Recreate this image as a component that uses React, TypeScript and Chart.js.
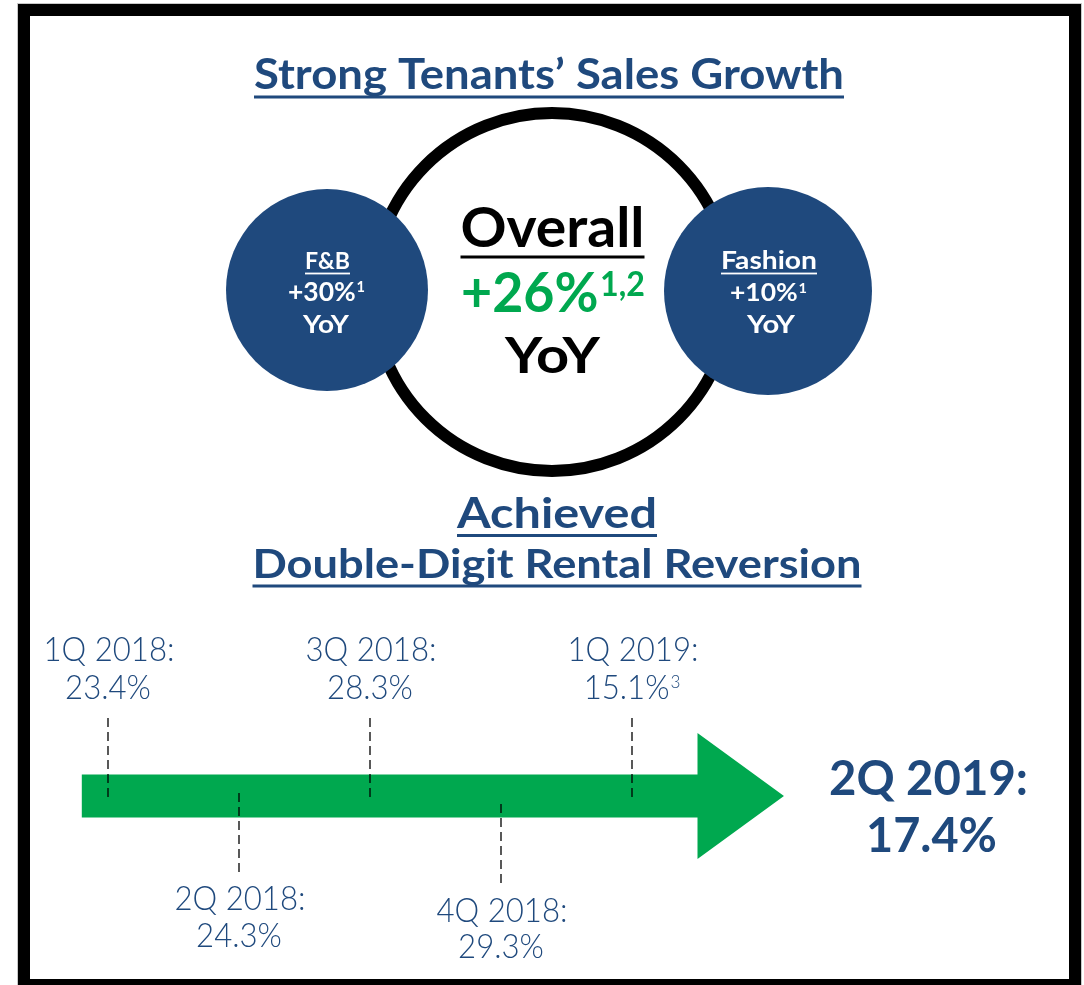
import React, { useEffect, useRef } from 'react';
import { Chart, registerables } from 'chart.js';

Chart.register(...registerables);

const W = 1084;
const H = 985;

// ---- data ----
const quarters = ['1Q 2018', '2Q 2018', '3Q 2018', '4Q 2018', '1Q 2019', '2Q 2019'];
const reversion = [23.4, 24.3, 28.3, 29.3, 15.1, 17.4];
const reversionNotes = ['', '', '', '', '3', ''];

const segments = ['F&B', 'Overall', 'Fashion'];
const salesGrowth = [30, 26, 10];
const growthNotes = ['1', '1,2', '1'];

const titleTop = 'Strong Tenants\u2019 Sales Growth';
const titleBottom = ['Achieved', 'Double-Digit Rental Reversion'];

// ---- style ----
const NAVY = '#1f497d';
const GREEN = '#00a84f';
const BOLD_FAMILY = 'Lato, "DejaVu Sans", sans-serif';
const LIGHT_FAMILY = 'Lato, "DejaVu Sans", sans-serif';

const X0 = 108; // pixel of first quarter
const QSTEP = 131; // pixels per quarter

type TextOpts = {
  main: string;
  sup?: string;
  cx: number;
  base: number;
  cap: number;
  width?: number;
  sx?: number;
  weight: string | number;
  family: string;
  color: string;
  supRatio?: number;
  underline?: { y: number; thick: number };
};

function sizeForCap(ctx: CanvasRenderingContext2D, weight: string | number, family: string, cap: number) {
  ctx.font = `${weight} 100px ${family}`;
  const a = ctx.measureText('H').actualBoundingBoxAscent || 72;
  return (cap * 100) / a;
}

function measure(ctx: CanvasRenderingContext2D, o: TextOpts) {
  const size = sizeForCap(ctx, o.weight, o.family, o.cap);
  const supSize = size * (o.supRatio ?? 0.58);
  ctx.font = `${o.weight} ${size}px ${o.family}`;
  const wMain = ctx.measureText(o.main).width;
  let wSup = 0;
  if (o.sup) {
    ctx.font = `${o.weight} ${supSize}px ${o.family}`;
    wSup = ctx.measureText(o.sup).width + size * 0.03;
  }
  return { size, supSize, wMain, total: wMain + wSup };
}

function drawText(ctx: CanvasRenderingContext2D, o: TextOpts) {
  const m = measure(ctx, o);
  let sx = o.sx ?? (o.width ? o.width / m.total : 1);
  sx = Math.max(0.7, Math.min(1.45, sx));
  ctx.save();
  ctx.translate(o.cx, o.base);
  ctx.scale(sx, 1);
  ctx.fillStyle = o.color;
  ctx.textAlign = 'left';
  ctx.textBaseline = 'alphabetic';
  ctx.font = `${o.weight} ${m.size}px ${o.family}`;
  ctx.fillText(o.main, -m.total / 2, 0);
  if (o.sup) {
    ctx.font = `${o.weight} ${m.supSize}px ${o.family}`;
    const supCap = o.cap * (m.supSize / m.size);
    ctx.fillText(o.sup, -m.total / 2 + m.wMain + m.size * 0.03, -(o.cap - supCap));
  }
  ctx.restore();
  if (o.underline) {
    ctx.fillStyle = o.color;
    const w = m.total * sx;
    ctx.fillRect(o.cx - w / 2, o.underline.y - o.underline.thick / 2, w, o.underline.thick);
  }
  return sx;
}

const infographic = {
  id: 'infographic',
  beforeDraw(chart: any) {
    const ctx: CanvasRenderingContext2D = chart.ctx;
    ctx.save();
    ctx.fillStyle = '#ffffff';
    ctx.fillRect(0, 0, W, H);
    // frame
    ctx.strokeStyle = '#c8c8c8';
    ctx.lineWidth = 1;
    ctx.strokeRect(17.5, 3.5, 1064, 990);
    ctx.strokeStyle = '#000000';
    ctx.lineWidth = 12;
    ctx.strokeRect(24, 10, 1051, 975);
    ctx.restore();
  },
  beforeDatasetsDraw(chart: any) {
    const ctx: CanvasRenderingContext2D = chart.ctx;
    const xs = chart.scales.x;
    const ys = chart.scales.y;
    const left = xs.getPixelForValue(-0.2);
    const headBase = xs.getPixelForValue(4.5);
    const tip = xs.getPixelForValue(5.16);
    const cy = ys.getPixelForValue(796);
    ctx.save();
    ctx.fillStyle = GREEN;
    ctx.beginPath();
    ctx.moveTo(left, cy - 21.5);
    ctx.lineTo(headBase, cy - 21.5);
    ctx.lineTo(headBase, cy - 63);
    ctx.lineTo(tip, cy);
    ctx.lineTo(headBase, cy + 63);
    ctx.lineTo(headBase, cy + 21.5);
    ctx.lineTo(left, cy + 21.5);
    ctx.closePath();
    ctx.fill();
    ctx.restore();
  },
  afterDatasetsDraw(chart: any) {
    const ctx: CanvasRenderingContext2D = chart.ctx;
    const xs = chart.scales.x;
    ctx.save();

    // titles
    drawText(ctx, {
      main: titleTop, cx: 549, base: 89, cap: 31, width: 590, weight: 'bold',
      family: BOLD_FAMILY, color: NAVY, underline: { y: 97, thick: 3 },
    });
    drawText(ctx, {
      main: titleBottom[0], cx: 557, base: 528, cap: 30, width: 200, weight: 'bold',
      family: BOLD_FAMILY, color: NAVY, underline: { y: 535.5, thick: 3 },
    });
    drawText(ctx, {
      main: titleBottom[1], cx: 557, base: 578, cap: 29, width: 609, weight: 'bold',
      family: BOLD_FAMILY, color: NAVY, underline: { y: 586, thick: 3 },
    });

    // big ring
    ctx.strokeStyle = '#000';
    ctx.lineWidth = 12;
    ctx.beginPath();
    ctx.arc(552, 292, 179, 0, Math.PI * 2);
    ctx.stroke();

    // side circles
    const circles = [
      { cx: 327, cy: 290, r: 101 },
      null,
      { cx: 768, cy: 291, r: 104 },
    ];
    circles.forEach((c) => {
      if (!c) return;
      ctx.fillStyle = NAVY;
      ctx.beginPath();
      ctx.arc(c.cx, c.cy, c.r, 0, Math.PI * 2);
      ctx.fill();
    });

    // F&B
    drawText(ctx, {
      main: segments[0], cx: 327.5, base: 269, cap: 17, width: 45, weight: 'bold',
      family: BOLD_FAMILY, color: '#fff', underline: { y: 273.5, thick: 1.8 },
    });
    drawText(ctx, {
      main: `+${salesGrowth[0]}%`, sup: growthNotes[0], supRatio: 0.55, cx: 326.5, base: 301, cap: 19,
      width: 77, weight: 'bold', family: BOLD_FAMILY, color: '#fff',
    });
    drawText(ctx, {
      main: 'YoY', cx: 326, base: 333, cap: 18, width: 46, weight: 'bold',
      family: BOLD_FAMILY, color: '#fff',
    });

    // Fashion
    drawText(ctx, {
      main: segments[2], cx: 769, base: 269, cap: 18, width: 96, weight: 'bold',
      family: BOLD_FAMILY, color: '#fff', underline: { y: 273.5, thick: 1.8 },
    });
    drawText(ctx, {
      main: `+${salesGrowth[2]}%`, sup: growthNotes[2], supRatio: 0.55, cx: 768.5, base: 301, cap: 18,
      width: 77, weight: 'bold', family: BOLD_FAMILY, color: '#fff',
    });
    drawText(ctx, {
      main: 'YoY', cx: 771, base: 333, cap: 18, width: 48, weight: 'bold',
      family: BOLD_FAMILY, color: '#fff',
    });

    // Overall
    drawText(ctx, {
      main: segments[1], cx: 552.5, base: 247, cap: 40, width: 184, weight: 'bold',
      family: BOLD_FAMILY, color: '#000', underline: { y: 257, thick: 3 },
    });
    drawText(ctx, {
      main: `+${salesGrowth[1]}%`, sup: growthNotes[1], supRatio: 0.6, cx: 553, base: 312, cap: 41,
      width: 184, weight: 'bold', family: BOLD_FAMILY, color: GREEN,
    });
    drawText(ctx, {
      main: 'YoY', cx: 552.5, base: 373, cap: 36, width: 95, weight: 'bold',
      family: BOLD_FAMILY, color: '#000',
    });

    // timeline labels
    const labelBase: TextOpts = {
      main: 'x', cx: 0, base: 0, cap: 24, weight: 300, family: LIGHT_FAMILY, color: NAVY,
    };
    const refW = measure(ctx, { ...labelBase, main: `${quarters[0]}:` }).total;
    const labelSx = 131 / refW;
    for (let i = 0; i < quarters.length - 1; i++) {
      const px = xs.getPixelForValue(i);
      const above = i % 2 === 0;
      const b1 = above ? 661 : 910 + (i === 3 ? 12 : 0);
      const b2 = above ? 699 : 947 + (i === 3 ? 11 : 0);
      drawText(ctx, { ...labelBase, main: `${quarters[i]}:`, cx: px + 1, base: b1, sx: labelSx });
      drawText(ctx, {
        ...labelBase, main: `${reversion[i].toFixed(1)}%`, sup: reversionNotes[i] || undefined,
        supRatio: 0.55, cx: px, base: b2, sx: labelSx,
      });
    }
    const last = quarters.length - 1;
    drawText(ctx, {
      main: `${quarters[last]}:`, cx: 928.5, base: 795, cap: 35, width: 199, weight: 'bold',
      family: BOLD_FAMILY, color: NAVY,
    });
    drawText(ctx, {
      main: `${reversion[last].toFixed(1)}%`, cx: 931.5, base: 852, cap: 35, width: 131, weight: 'bold',
      family: BOLD_FAMILY, color: NAVY,
    });

    ctx.restore();
  },
};

export default function App() {
  const ref = useRef<HTMLCanvasElement>(null);
  useEffect(() => {
    if (!ref.current) return;
    const datasets = quarters.slice(0, quarters.length - 1).map((q, i) => {
      const above = i % 2 === 0;
      const off = i === 3 ? 11 : 0;
      const y1 = above ? 718 : 793 + off;
      const y2 = above ? 799 : 874 + off;
      return {
        type: 'line' as const,
        label: q,
        data: [
          { x: i, y: y1 },
          { x: i, y: y2 },
        ],
        borderColor: '#000',
        borderWidth: 1.3,
        borderDash: [9, 5],
        pointRadius: 0,
        fill: false,
        tension: 0,
      };
    });
    const chart = new Chart(ref.current, {
      type: 'scatter',
      data: { datasets: datasets as any },
      options: {
        responsive: false,
        maintainAspectRatio: false,
        animation: false,
        events: [],
        layout: { padding: 0 },
        plugins: {
          legend: { display: false },
          tooltip: { enabled: false },
          title: { display: false },
        },
        scales: {
          x: { type: 'linear', display: false, min: -X0 / QSTEP, max: (W - X0) / QSTEP },
          y: { type: 'linear', display: false, min: 0, max: H, reverse: true },
        },
      },
      plugins: [infographic],
    });
    return () => chart.destroy();
  }, []);
  return (
    <div style={{ position: 'absolute', left: 0, top: 0, width: W, height: H }}>
      <canvas ref={ref} width={W} height={H} style={{ display: 'block', width: W, height: H }} />
    </div>
  );
}
